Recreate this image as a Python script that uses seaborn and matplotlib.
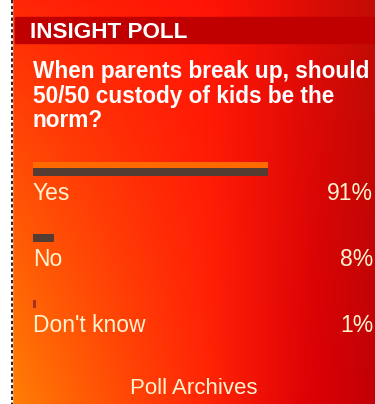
import numpy as np
import pandas as pd
import matplotlib
matplotlib.use("Agg")
import matplotlib.pyplot as plt
import matplotlib.transforms as mtransforms
from matplotlib.patches import Rectangle
from matplotlib.lines import Line2D
import seaborn as sns

# ---- data ----
title = "INSIGHT POLL"
question_lines = ["When parents break up, should",
                  "50/50 custody of kids be the",
                  "norm?"]
categories = ["Yes", "No", "Don't know"]
values = [91, 8, 1]
value_labels = ["91%", "8%", "1%"]
footer = "Poll Archives"

sns.set_theme(style="white")
plt.rcParams['font.family'] = ['Liberation Sans', 'DejaVu Sans']

W, H = 375, 404
fig = plt.figure(figsize=(W / 100, H / 100), dpi=100)

# ---- background gradient ----
bg = fig.add_axes([0, 0, 1, 1])
bg.set_axis_off()
ny, nx = 202, 188
yy, xx = np.mgrid[0:ny, 0:nx]
xn = xx / (nx - 1)
yn = yy / (ny - 1)
R = np.where(xn < 0.55, 1.0, 1.0 - 0.24 * ((xn - 0.55) / 0.45) ** 1.2)
G = 0.52 * np.clip(1 - xn / 0.85, 0, 1) ** 1.2 * (0.2 + 0.8 * yn ** 0.9)
G += 0.05 * (1 - yn)
B = 0.02 * np.ones_like(xn)
img = np.dstack([R, np.clip(G, 0, 1), B])
bg.imshow(img, extent=[0, W, H, 0], aspect='auto', interpolation='bilinear')
bg.set_xlim(0, W)
bg.set_ylim(H, 0)
# left white strip with dashed line
bg.add_patch(Rectangle((0, 0), 12, H, color='white', zorder=2))
bg.add_line(Line2D([11.5, 11.5], [0, H], color='black', lw=1.2,
                   linestyle=(0, (2, 1.5)), zorder=3))
# title band
bg.add_patch(Rectangle((15, 17), W - 15, 26, color='#c00000', zorder=2))
bg.text(30, 38, title, color='white', fontsize=16.2, fontweight='bold',
        va='baseline', ha='left', zorder=4)
for k, line in enumerate(question_lines):
    bg.text(33, 78 + 24.5 * k, line, color='white', fontsize=16.3,
            fontweight='bold', va='baseline', ha='left', zorder=4)
bg.text(194, 388, footer, color='#fff4d0', fontsize=16, va='center',
        ha='center', zorder=4)

# ---- bars ----
ax = fig.add_axes([33 / W, 1 - 337 / H, 258 / W, 198 / H])
ax.patch.set_alpha(0)
df = pd.DataFrame({"category": categories, "value": values})
sns.barplot(data=df, x="value", y="category", hue="category", orient='h',
            palette=["#5a3a2c", "#5a3a2c", "#b82010"], width=0.12,
            linewidth=0, legend=False, ax=ax, zorder=3)
ax.set_xlim(0, 100)
ax.set_ylim(2.5, -0.5)
ax.set_axis_off()

# orange highlight above the leading bar
lead = int(np.argmax(values))
p = sorted(ax.patches, key=lambda r: r.get_y())[lead]
ax.add_patch(Rectangle((p.get_x(), p.get_y() - 0.085), p.get_width(), 0.085,
                       color='#ff6a00', lw=0, zorder=3))

trans = mtransforms.blended_transform_factory(fig.transFigure, ax.transData)
for i, (c, lab) in enumerate(zip(categories, value_labels)):
    ax.text(0, i + 0.33, c, color='#fff4d0', fontsize=16.5, va='center',
            ha='left', clip_on=False)
    ax.text(373 / W, i + 0.33, lab, color='#fff4d0', fontsize=16.5,
            va='center', ha='right', transform=trans, clip_on=False)

fig.savefig("out.png", dpi=100)
